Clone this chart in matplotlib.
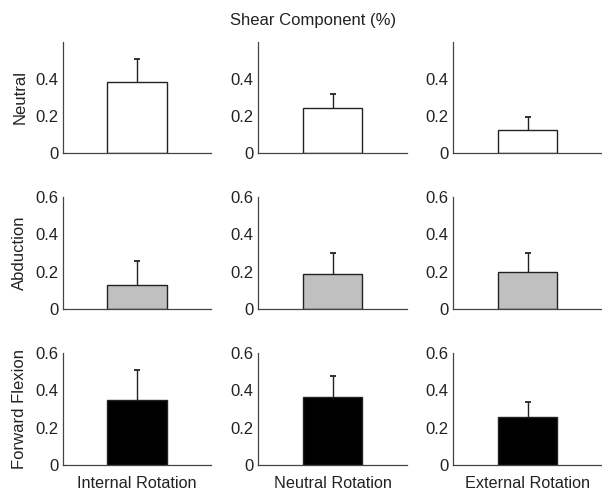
import matplotlib
matplotlib.use("Agg")
import matplotlib.pyplot as plt

plt.rcParams['font.family'] = ['Liberation Sans', 'DejaVu Sans']

rows = ["Neutral", "Abduction", "Forward Flexion"]
cols = ["Internal Rotation", "Neutral Rotation", "External Rotation"]
means = [
    [0.386, 0.244, 0.126],
    [0.126, 0.190, 0.199],
    [0.346, 0.364, 0.259],
]
errs = [
    [0.124, 0.074, 0.071],
    [0.130, 0.110, 0.101],
    [0.164, 0.111, 0.081],
]
colors = ["white", "#c0c0c0", "black"]
title = "Shear Component (%)"

W, H = 602, 491
fig = plt.figure(figsize=(W / 100, H / 100), dpi=100)

col_px = [(63, 148), (258, 149), (453, 149)]
row_px = [(42, 153), (197, 309), (353, 465)]

for i in range(3):
    for j in range(3):
        x0, w = col_px[j]
        top, bot = row_px[i]
        ax = fig.add_axes([x0 / W, 1 - bot / H, w / W, (bot - top) / H])
        m, e = means[i][j], errs[i][j]
        ax.bar([1], [m], width=0.8, color=colors[i],
               edgecolor="#222222", linewidth=1.0, zorder=2)
        ax.vlines([1], [m], [m + e], colors="#222222", linewidth=1.0, zorder=3)
        ax.plot([1], [m + e], marker="_", markersize=4, markeredgewidth=1.3,
                color="#222222", zorder=3)
        ax.set_xlim(0, 2)
        ax.set_ylim(0, 0.6)
        if i == 0:
            ax.set_yticks([0, 0.2, 0.4])
            ax.set_yticklabels(["0", "0.2", "0.4"])
        else:
            ax.set_yticks([0, 0.2, 0.4, 0.6])
            ax.set_yticklabels(["0", "0.2", "0.4", "0.6"])
        ax.set_xticks([])
        for s in ["top", "right"]:
            ax.spines[s].set_visible(False)
        for s in ["left", "bottom"]:
            ax.spines[s].set_color("#444444")
            ax.spines[s].set_linewidth(0.9)
        ax.tick_params(axis="y", length=0, pad=3, labelsize=12, colors="#222222")
        if j == 0:
            ax.set_ylabel(rows[i], fontsize=12, color="#222222", labelpad=6)
        if i == 2:
            ax.set_xlabel(cols[j], fontsize=11.7, color="#222222", labelpad=8)

fig.text(313 / W, 1 - 20 / H, title, ha="center", va="center", fontsize=12, color="#222222")

fig.savefig("out.png", dpi=100)
